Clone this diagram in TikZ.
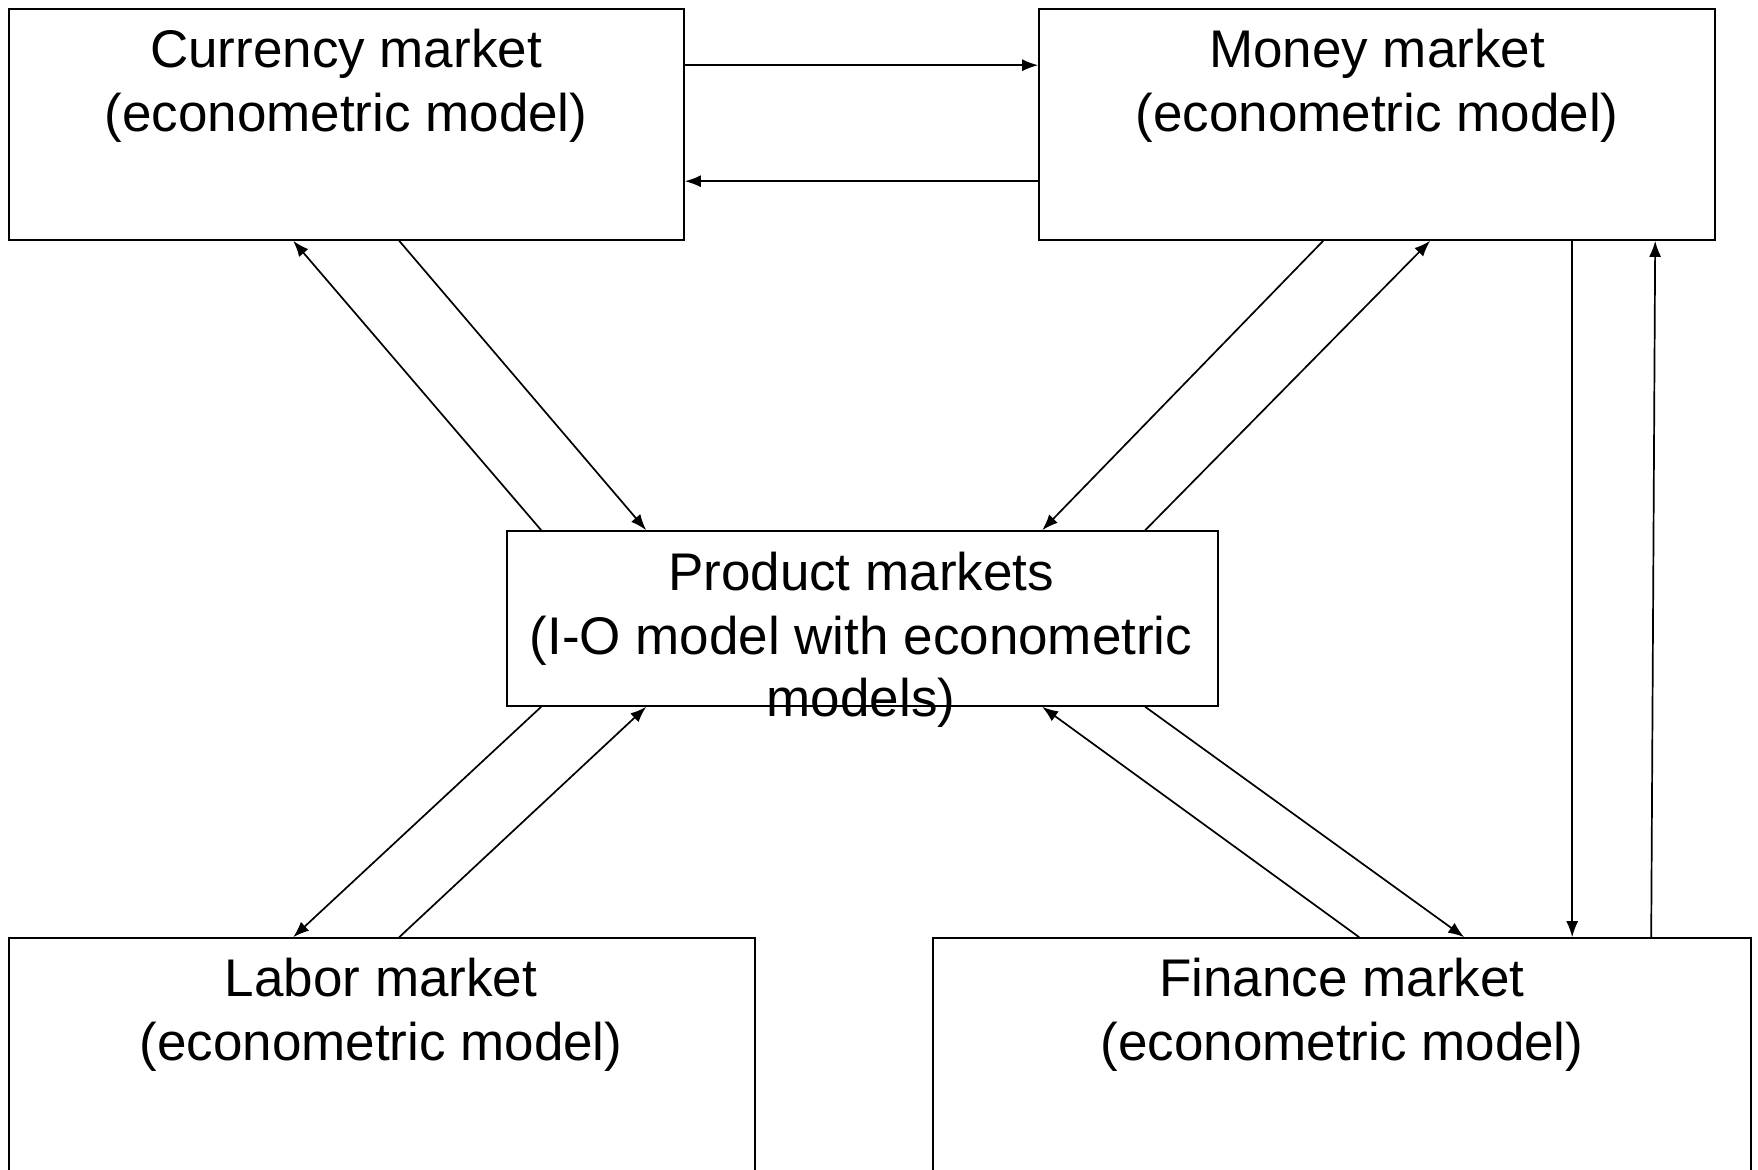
\documentclass[tikz,border=0pt]{standalone}
\usepackage{fontspec}
\setmainfont{Liberation Sans}
\usetikzlibrary{arrows.meta,calc}
\begin{document}
\begin{tikzpicture}[x=0.5pt,y=-0.5pt,
  box/.style={draw=black,line width=0.8pt,rectangle,inner sep=0pt,fill=none},
  lbl/.style={anchor=base,inner sep=0pt,font=\fontsize{26.5}{32}\selectfont},
  conn/.style={draw=black,line width=0.85pt,-{Latex[length=8pt,width=6pt]}}]
\useasboundingbox[fill=white] (0,0) rectangle (1758,1169);
\begin{scope}
\clip (0,0) rectangle (1758,1169);
\node[box,minimum width=337.5pt,minimum height=115.5pt] (cur) at (346.5,124.5) {};
\node[box,minimum width=338pt,minimum height=115.5pt] (mon) at (1377,124.5) {};
\node[box,minimum width=355.5pt,minimum height=87.5pt] (pro) at (862.5,618.5) {};
\node[box,minimum width=373pt,minimum height=131pt] (lab) at (382,1069) {};
\node[box,minimum width=409pt,minimum height=131pt] (fin) at (1342,1069) {};

\node[lbl] (t1) at (346,67.5) {Currency market};
\node[lbl] (t2) at (346,131) {(econometric model)};
\node[lbl] (t3) at (1377,67.5) {Money market};
\node[lbl] (t4) at (1377,131) {(econometric model)};
\node[lbl] (t5) at (861,590) {Product markets};
\node[lbl] (t6) at (861,654) {(I-O model with econometric};
\node[lbl] (t7) at (861,716) {models)};
\node[lbl] (t8) at (381,996) {Labor market};
\node[lbl] (t9) at (381,1060) {(econometric model)};
\node[lbl] (t10) at (1342,996) {Finance market};
\node[lbl] (t11) at (1342,1060) {(econometric model)};

% currency <-> money
\draw[conn] ($(cur.north east)+(0,57)$) -- ($(mon.north west)+(0,57)$);
\draw[conn] ($(mon.north west)+(0,173)$) -- ($(cur.north east)+(0,173)$);
% currency <-> product
\draw[conn] ($(pro.north west)+(35,0)$) -- ($(cur.south west)+(285,0)$);
\draw[conn] ($(cur.south west)+(391,0)$) -- ($(pro.north west)+(140,0)$);
% money <-> product
\draw[conn] ($(mon.south west)+(285,0)$) -- ($(pro.north west)+(536,0)$);
\draw[conn] ($(pro.north west)+(639,0)$) -- ($(mon.south west)+(392,0)$);
% money <-> finance
\draw[conn] ($(mon.south west)+(534,0)$) -- ($(fin.north west)+(640,0)$);
\draw[conn] ($(fin.north west)+(719,0)$) -- ($(mon.south west)+(617,0)$);
% product <-> labor
\draw[conn] ($(pro.south west)+(35,0)$) -- ($(lab.north west)+(285,0)$);
\draw[conn] ($(lab.north west)+(391,0)$) -- ($(pro.south west)+(140,0)$);
% product <-> finance
\draw[conn] ($(fin.north west)+(427,0)$) -- ($(pro.south west)+(536,0)$);
\draw[conn] ($(pro.south west)+(639,0)$) -- ($(fin.north west)+(532,0)$);
\end{scope}
\end{tikzpicture}
\end{document}
